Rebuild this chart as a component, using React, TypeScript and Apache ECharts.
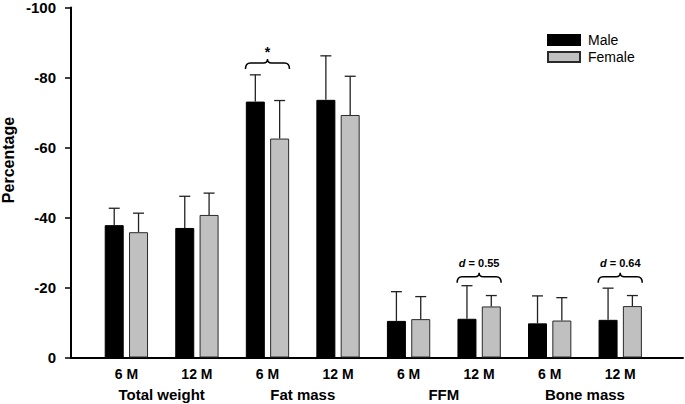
import React, { useEffect, useRef } from 'react';
import * as echarts from 'echarts';

const groups = ['Total weight', 'Fat mass', 'FFM', 'Bone mass'];
const timepoints = ['6 M', '12 M'];
const categories = groups.flatMap((g) => timepoints.map((t) => `${g} ${t}`));

const maleMean = [-37.6, -36.8, -72.7, -73.2, -10.4, -11.0, -9.7, -10.7];
const maleErr = [-42.4, -45.8, -80.3, -85.7, -18.7, -20.4, -17.5, -19.7];
const femaleMean = [-35.6, -40.5, -62.2, -68.9, -10.9, -14.5, -10.5, -14.6];
const femaleErr = [-41.0, -46.7, -73.0, -79.9, -17.3, -17.6, -17.0, -17.6];

const yMin = -100;
const yMax = 0;
const yInterval = 20;

const bracketCats = [2, 5, 7];
const bracketLevels = [-83.7, -22.95, -22.95];
const bracketLabels = ['*', 'd = 0.55', 'd = 0.64'];

const FONT = '"Liberation Sans", Arial, Helvetica, sans-serif';
const BAR_W = 19;
const BAR_GAP = 0.28;
const OFFSET = (BAR_W + BAR_W * BAR_GAP) / 2;

function errorSeries(name: string, means: number[], errs: number[], dir: number) {
  return {
    type: 'custom',
    name: name + ' SD',
    xAxisIndex: 1,
    yAxisIndex: 1,
    z: 5,
    encode: { x: 0, y: 1 },
    data: categories.map((_, i) => [i, errs[i], means[i]]),
    renderItem: (params: any, api: any) => {
      const top = api.coord([api.value(0), api.value(1)]);
      const base = api.coord([api.value(0), api.value(2)]);
      const x = top[0] + dir * OFFSET;
      const st = { stroke: '#222', lineWidth: 1.3 };
      return {
        type: 'group',
        children: [
          { type: 'line', shape: { x1: x, y1: base[1], x2: x, y2: top[1] }, style: st },
          { type: 'line', shape: { x1: x - 5.5, y1: top[1], x2: x + 5.5, y2: top[1] }, style: st },
        ],
      };
    },
  };
}

export default function App() {
  const ref = useRef<HTMLDivElement>(null);
  useEffect(() => {
    if (!ref.current) return;
    const chart = echarts.init(ref.current, undefined, { renderer: 'svg' });
    const option: any = {
      animation: false,
      backgroundColor: '#fff',
      textStyle: { fontFamily: FONT },
      legend: {
        data: ['Male', 'Female'],
        orient: 'vertical',
        left: 542,
        top: 28,
        itemWidth: 32,
        itemHeight: 10,
        itemGap: 3,
        icon: 'rect',
        textStyle: { fontSize: 14, fontFamily: FONT, color: '#000', padding: [0, 0, 0, 3] },
      },
      grid: [
        { left: 71, right: 2, top: 5.5, bottom: 46.5 },
        { left: 91.1, right: 29.5, top: 5.5, bottom: 46.5 },
      ],
      xAxis: [
        {
          gridIndex: 0,
          type: 'value',
          min: 0,
          max: 1,
          axisLine: { show: true, onZero: false, lineStyle: { color: '#000', width: 2 } },
          axisTick: { show: false },
          axisLabel: { show: false },
          splitLine: { show: false },
        },
        {
          gridIndex: 1,
          type: 'category',
          data: categories,
          axisLine: { show: false },
          axisTick: { show: false },
          axisLabel: {
            interval: 0,
            formatter: (_v: string, i: number) => timepoints[i % timepoints.length],
            fontWeight: 'bold',
            fontSize: 14,
            fontFamily: FONT,
            color: '#000',
            margin: 9,
          },
        },
        {
          gridIndex: 1,
          type: 'category',
          data: groups,
          position: 'bottom',
          offset: 20,
          axisLine: { show: false },
          axisTick: { show: false },
          axisLabel: {
            interval: 0,
            fontWeight: 'bold',
            fontSize: 15,
            fontFamily: FONT,
            color: '#000',
            margin: 9,
          },
        },
      ],
      yAxis: [
        {
          gridIndex: 0,
          type: 'value',
          inverse: true,
          min: yMin,
          max: yMax,
          interval: yInterval,
          axisLine: { show: true, onZero: false, lineStyle: { color: '#000', width: 2 } },
          axisTick: { show: true, length: 6, lineStyle: { color: '#000', width: 1.5 } },
          axisLabel: { fontWeight: 'bold', fontSize: 15, fontFamily: FONT, color: '#000', margin: 15 },
          splitLine: { show: false },
        },
        {
          gridIndex: 1,
          type: 'value',
          inverse: true,
          min: yMin,
          max: yMax,
          show: false,
          splitLine: { show: false },
        },
      ],
      graphic: [
        {
          type: 'text',
          x: 8,
          y: 160,
          rotation: Math.PI / 2,
          style: {
            text: 'Percentage',
            fill: '#000',
            font: `bold 16px ${FONT}`,
            align: 'center',
            verticalAlign: 'middle',
          },
        },
      ],
      series: [
        {
          type: 'bar',
          name: 'Male',
          xAxisIndex: 1,
          yAxisIndex: 1,
          data: maleMean,
          barWidth: BAR_W,
          barGap: `${BAR_GAP * 100}%`,
          itemStyle: { color: '#000', borderColor: '#000', borderWidth: 1 },
        },
        {
          type: 'bar',
          name: 'Female',
          xAxisIndex: 1,
          yAxisIndex: 1,
          data: femaleMean,
          barWidth: BAR_W,
          barGap: `${BAR_GAP * 100}%`,
          itemStyle: { color: '#c0c0c0', borderColor: '#2a2a2a', borderWidth: 1 },
        },
        errorSeries('Male', maleMean, maleErr, -1),
        errorSeries('Female', femaleMean, femaleErr, 1),
        {
          type: 'custom',
          name: 'brackets',
          xAxisIndex: 1,
          yAxisIndex: 1,
          z: 6,
          encode: { x: 0, y: 1 },
          data: bracketCats.map((c, i) => [c, bracketLevels[i], i]),
          renderItem: (params: any, api: any) => {
            const p = api.coord([api.value(0), api.value(1)]);
            const cx = p[0];
            const y = p[1];
            const x0 = cx - 22;
            const x1 = cx + 22;
            const d = `M${x0} ${y + 6} Q${x0} ${y} ${x0 + 5} ${y} L${cx - 4} ${y} Q${cx} ${y} ${cx} ${y - 4} Q${cx} ${y} ${cx + 4} ${y} L${x1 - 5} ${y} Q${x1} ${y} ${x1} ${y + 6}`;
            const label = bracketLabels[api.value(2)];
            const isStar = label === '*';
            const txt = label.startsWith('d ') ? `{i|d}${label.slice(1)}` : label;
            return {
              type: 'group',
              children: [
                {
                  type: 'path',
                  shape: { pathData: d },
                  style: { stroke: '#000', lineWidth: 1.5, fill: 'none' },
                },
                {
                  type: 'text',
                  style: {
                    text: txt,
                    x: cx,
                    y: isStar ? y - 11 : y - 13.5,
                    fill: '#000',
                    font: isStar ? `bold 14px ${FONT}` : `bold 11px ${FONT}`,
                    align: 'center',
                    verticalAlign: 'middle',
                    rich: {
                      i: { fontStyle: 'italic', fontWeight: 'bold', fontSize: 11, fontFamily: FONT, fill: '#000' },
                    },
                  },
                },
              ],
            };
          },
        },
      ],
    };
    chart.setOption(option);
    return () => chart.dispose();
  }, []);
  return <div ref={ref} style={{ position: 'fixed', left: 0, top: 0, width: 685, height: 404 }} />;
}
